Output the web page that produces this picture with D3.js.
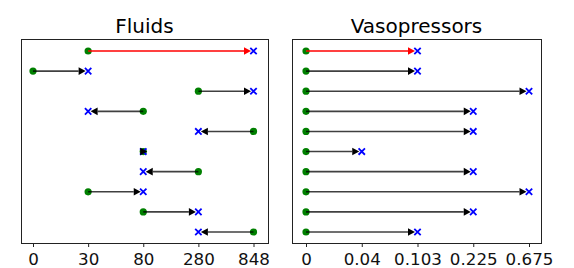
<!DOCTYPE html>
<html>
<head>
<meta charset="utf-8">
<script src="https://cdn.jsdelivr.net/npm/d3@7"></script>
<style>
  body { margin: 0; background: #fff; }
  text { font-family: "DejaVu Sans", sans-serif; }
</style>
</head>
<body>
<svg width="574" height="268"></svg>
<script>
// categories on each x axis (ordinal bins)
const fluidBins = ['0', '30', '80', '280', '848'];
const vasoBins = ['0', '0.04', '0.103', '0.225', '0.675'];

// start / end bin for each of the 10 rows, top to bottom
const fluidStart = ['30', '0', '280', '80', '848', '80', '280', '30', '80', '848'];
const fluidEnd = ['848', '30', '848', '30', '280', '80', '80', '80', '280', '280'];
const vasoStart = ['0', '0', '0', '0', '0', '0', '0', '0', '0', '0'];
const vasoEnd = ['0.103', '0.103', '0.675', '0.225', '0.225', '0.04', '0.225', '0.675', '0.225', '0.103'];

const panels = [
  { title: 'Fluids', bins: fluidBins, start: fluidStart, end: fluidEnd, x0: 21, x1: 268, padL: 12, padR: 14.5 },
  { title: 'Vasopressors', bins: vasoBins, start: vasoStart, end: vasoEnd, x0: 292, x1: 541, padL: 14, padR: 12 },
];

const svg = d3.select('svg');
const frameTop = 39;
const frameBottom = 243;

panels.forEach((p) => {
  const g = svg.append('g');
  const x = d3.scalePoint()
    .domain(p.bins)
    .range([p.x0 + p.padL, p.x1 - p.padR]);
  const rows = d3.range(p.start.length);
  const y = d3.scalePoint()
    .domain(rows)
    .range([51, 232]);

  g.append('rect')
    .attr('x', p.x0 + 0.5)
    .attr('y', frameTop + 0.5)
    .attr('width', p.x1 - p.x0)
    .attr('height', frameBottom - frameTop)
    .attr('fill', 'none')
    .attr('stroke', '#222')
    .attr('stroke-width', 1);

  g.append('text')
    .attr('x', (p.x0 + p.x1) / 2)
    .attr('y', 33)
    .attr('text-anchor', 'middle')
    .style('font-size', '20px')
    .text(p.title);

  const axis = g.append('g')
    .attr('transform', `translate(0,${frameBottom + 0.5})`)
    .call(d3.axisBottom(x).tickSize(3.5).tickPadding(6));
  axis.select('.domain').remove();
  axis.selectAll('line').attr('stroke', '#222');
  axis.selectAll('text')
    .style('font-size', '16.7px')
    .style('font-family', '"DejaVu Sans", sans-serif')
    .attr('fill', '#111');

  const data = rows.map(i => ({ i, s: x(p.start[i]), e: x(p.end[i]), yy: y(i) }));

  // start markers
  g.selectAll('circle.start')
    .data(data)
    .enter()
    .append('circle')
    .attr('class', 'start')
    .attr('cx', d => d.s)
    .attr('cy', d => d.yy)
    .attr('r', 3.6)
    .attr('fill', 'green');

  // end markers (x)
  const xs = 3.2;
  g.selectAll('path.end')
    .data(data)
    .enter()
    .append('path')
    .attr('class', 'end')
    .attr('d', d => `M${d.e - xs},${d.yy - xs}L${d.e + xs},${d.yy + xs}M${d.e - xs},${d.yy + xs}L${d.e + xs},${d.yy - xs}`)
    .attr('stroke', 'blue')
    .attr('stroke-width', 1.8)
    .attr('fill', 'none');

  // arrows
  const headLen = 7;
  const headW = 3.8;
  const arrows = g.selectAll('g.arrow')
    .data(data)
    .enter()
    .append('g')
    .attr('class', 'arrow');

  arrows.each(function (d) {
    const a = d3.select(this);
    const col = d.i === 0 ? 'red' : 'black';
    const dir = d.e >= d.s ? 1 : -1;
    let tip = d.e - dir * 2.5;
    if (d.e === d.s) tip = d.e + 4;
    const base = tip - dir * headLen;
    if (d.e !== d.s) {
      a.append('line')
        .attr('x1', d.s)
        .attr('x2', base)
        .attr('y1', d.yy)
        .attr('y2', d.yy)
        .attr('stroke', col)
        .attr('stroke-opacity', d.i === 0 ? 1 : 0.75)
        .attr('stroke-width', 1.6);
    }
    a.append('path')
      .attr('d', `M${tip},${d.yy}L${base},${d.yy - headW}L${base},${d.yy + headW}Z`)
      .attr('fill', col);
  });
});
</script>
</body>
</html>
